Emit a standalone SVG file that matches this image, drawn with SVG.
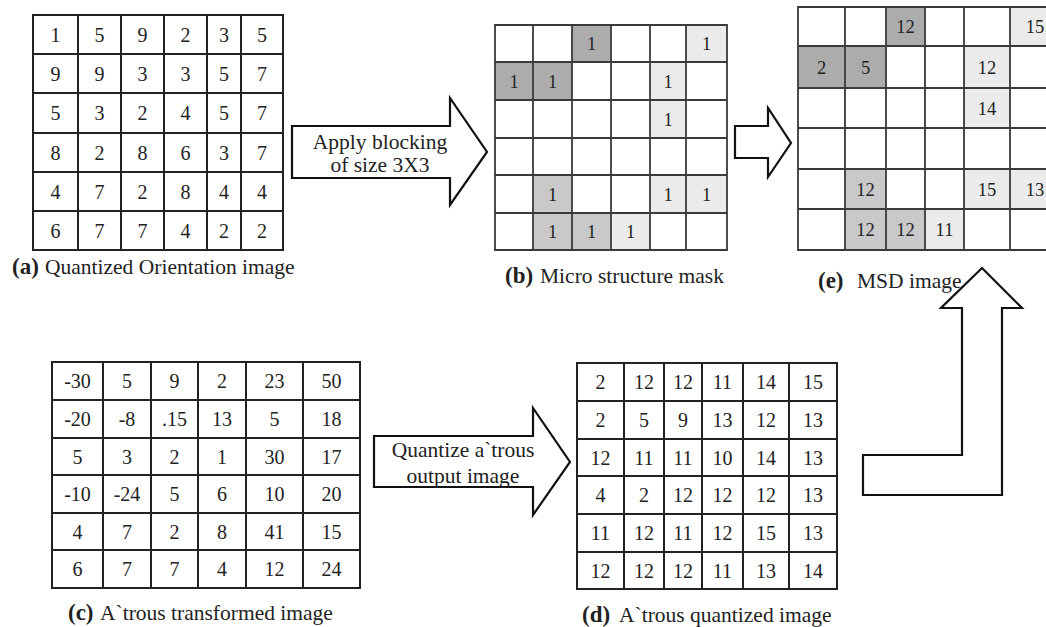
<svg xmlns="http://www.w3.org/2000/svg" width="1046" height="627" viewBox="0 0 1046 627">
<style>
text{font-family:"Liberation Serif","Times New Roman",serif;fill:#222}
.n{font-size:20px;text-anchor:middle}
.g{font-size:18.5px;text-anchor:middle;fill:#555}
.lb{font-size:21.5px}
.b{font-weight:bold;font-size:23px}
.grid{fill:none;stroke:#222;stroke-width:2}
.gg{fill:none;stroke:#3a3a3a;stroke-width:1.8}
.d1{fill:#acacac}.d2{fill:#c9c9c9}.d3{fill:#ebebeb}
.arr{fill:#fff;stroke:#111;stroke-width:2.2;stroke-linejoin:miter}
.at{font-size:21.5px;text-anchor:middle}
</style>
<rect width="1046" height="627" fill="#fff"/>

<g id="gridA">
<path class="grid" d="M33 15H283V250H33Z M78 15V250 M121 15V250 M164 15V250 M207 15V250 M241 15V250 M33 54H283 M33 93H283 M33 133H283 M33 172H283 M33 211H283"/>
<g class="n">
<text x="55.5" y="41.5">1</text><text x="99.5" y="41.5">5</text><text x="142.5" y="41.5">9</text><text x="185.5" y="41.5">2</text><text x="224" y="41.5">3</text><text x="262" y="41.5">5</text>
<text x="55.5" y="80.5">9</text><text x="99.5" y="80.5">9</text><text x="142.5" y="80.5">3</text><text x="185.5" y="80.5">3</text><text x="224" y="80.5">5</text><text x="262" y="80.5">7</text>
<text x="55.5" y="120">5</text><text x="99.5" y="120">3</text><text x="142.5" y="120">2</text><text x="185.5" y="120">4</text><text x="224" y="120">5</text><text x="262" y="120">7</text>
<text x="55.5" y="159.5">8</text><text x="99.5" y="159.5">2</text><text x="142.5" y="159.5">8</text><text x="185.5" y="159.5">6</text><text x="224" y="159.5">3</text><text x="262" y="159.5">7</text>
<text x="55.5" y="198.5">4</text><text x="99.5" y="198.5">7</text><text x="142.5" y="198.5">2</text><text x="185.5" y="198.5">8</text><text x="224" y="198.5">4</text><text x="262" y="198.5">4</text>
<text x="55.5" y="237.5">6</text><text x="99.5" y="237.5">7</text><text x="142.5" y="237.5">7</text><text x="185.5" y="237.5">4</text><text x="224" y="237.5">2</text><text x="262" y="237.5">2</text>
</g>
<text class="lb" x="12" y="274"><tspan class="b">(a)</tspan><tspan x="45">Quantized Orientation image</tspan></text>
</g>

<g id="gridB">
<rect class="d1" x="572" y="25" width="39" height="37"/>
<rect class="d1" x="495" y="62" width="77" height="38"/>
<rect class="d2" x="533" y="175" width="39" height="75"/>
<rect class="d2" x="572" y="213" width="39" height="37"/>
<rect class="d3" x="686" y="25" width="41" height="37"/>
<rect class="d3" x="650" y="62" width="36" height="76"/>
<rect class="d3" x="650" y="175" width="77" height="38"/>
<rect class="d3" x="611" y="213" width="39" height="37"/>
<path class="gg" d="M495 25H727V250H495Z M533 25V250 M572 25V250 M611 25V250 M650 25V250 M686 25V250 M495 62H727 M495 100H727 M495 138H727 M495 175H727 M495 213H727"/>
<g class="g">
<text x="591.5" y="50">1</text><text x="706.5" y="50">1</text>
<text x="514" y="87.5">1</text><text x="552.5" y="87.5">1</text><text x="668" y="87.5">1</text>
<text x="668" y="125.5">1</text>
<text x="552.5" y="200.5">1</text><text x="668" y="200.5">1</text><text x="706.5" y="200.5">1</text>
<text x="552.5" y="238">1</text><text x="591.5" y="238">1</text><text x="630.5" y="238">1</text>
</g>
<text class="lb" x="505" y="283"><tspan class="b">(b)</tspan><tspan x="540">Micro structure mask</tspan></text>
</g>

<g id="gridE">
<rect class="d1" x="886" y="7" width="39" height="39"/>
<rect class="d1" x="798" y="46" width="88" height="42"/>
<rect class="d2" x="845" y="169" width="41" height="81"/>
<rect class="d2" x="886" y="209" width="39" height="41"/>
<rect class="d3" x="1010" y="7" width="40" height="39"/>
<rect class="d3" x="964" y="46" width="46" height="82"/>
<rect class="d3" x="964" y="169" width="86" height="40"/>
<rect class="d3" x="925" y="209" width="39" height="41"/>
<path class="gg" d="M798 7H1050V250H798Z M845 7V250 M886 7V250 M925 7V250 M964 7V250 M1010 7V250 M798 46H1050 M798 88H1050 M798 128H1050 M798 169H1050 M798 209H1050"/>
<g class="g">
<text x="905.5" y="33">12</text><text x="1035" y="33">15</text>
<text x="821.5" y="73.5">2</text><text x="865.5" y="73.5">5</text><text x="987" y="73.5">12</text>
<text x="987" y="114.5">14</text>
<text x="865.5" y="195.5">12</text><text x="987" y="195.5">15</text><text x="1035" y="195.5">13</text>
<text x="865.5" y="236">12</text><text x="905.5" y="236">12</text><text x="944.5" y="236">11</text>
</g>
<text class="lb" x="818" y="288"><tspan class="b">(e)</tspan><tspan x="857">MSD image</tspan></text>
</g>

<g id="gridC">
<path class="grid" d="M52 362H360V588H52Z M103 362V588 M151 362V588 M198 362V588 M246 362V588 M303 362V588 M52 400H360 M52 438H360 M52 475H360 M52 513H360 M52 550H360"/>
<g class="n">
<text x="77.5" y="388">-30</text><text x="127" y="388">5</text><text x="174.5" y="388">9</text><text x="222" y="388">2</text><text x="274.5" y="388">23</text><text x="331.5" y="388">50</text>
<text x="77.5" y="426">-20</text><text x="127" y="426">-8</text><text x="174.5" y="426">.15</text><text x="222" y="426">13</text><text x="274.5" y="426">5</text><text x="331.5" y="426">18</text>
<text x="77.5" y="463.5">5</text><text x="127" y="463.5">3</text><text x="174.5" y="463.5">2</text><text x="222" y="463.5">1</text><text x="274.5" y="463.5">30</text><text x="331.5" y="463.5">17</text>
<text x="77.5" y="501">-10</text><text x="127" y="501">-24</text><text x="174.5" y="501">5</text><text x="222" y="501">6</text><text x="274.5" y="501">10</text><text x="331.5" y="501">20</text>
<text x="77.5" y="538.5">4</text><text x="127" y="538.5">7</text><text x="174.5" y="538.5">2</text><text x="222" y="538.5">8</text><text x="274.5" y="538.5">41</text><text x="331.5" y="538.5">15</text>
<text x="77.5" y="576">6</text><text x="127" y="576">7</text><text x="174.5" y="576">7</text><text x="222" y="576">4</text><text x="274.5" y="576">12</text><text x="331.5" y="576">24</text>
</g>
<text class="lb" x="68" y="620"><tspan class="b">(c)</tspan><tspan x="100">A`trous transformed image</tspan></text>
</g>

<g id="gridD">
<path class="grid" d="M577 363H837V589H577Z M624 363V589 M664 363V589 M702 363V589 M743 363V589 M789 363V589 M577 401H837 M577 439H837 M577 476H837 M577 514H837 M577 552H837"/>
<g class="n">
<text x="600.5" y="389">2</text><text x="644" y="389">12</text><text x="683" y="389">12</text><text x="722.5" y="389">11</text><text x="766" y="389">14</text><text x="813" y="389">15</text>
<text x="600.5" y="427">2</text><text x="644" y="427">5</text><text x="683" y="427">9</text><text x="722.5" y="427">13</text><text x="766" y="427">12</text><text x="813" y="427">13</text>
<text x="600.5" y="464.5">12</text><text x="644" y="464.5">11</text><text x="683" y="464.5">11</text><text x="722.5" y="464.5">10</text><text x="766" y="464.5">14</text><text x="813" y="464.5">13</text>
<text x="600.5" y="502">4</text><text x="644" y="502">2</text><text x="683" y="502">12</text><text x="722.5" y="502">12</text><text x="766" y="502">12</text><text x="813" y="502">13</text>
<text x="600.5" y="540">11</text><text x="644" y="540">12</text><text x="683" y="540">11</text><text x="722.5" y="540">12</text><text x="766" y="540">15</text><text x="813" y="540">13</text>
<text x="600.5" y="577.5">12</text><text x="644" y="577.5">12</text><text x="683" y="577.5">12</text><text x="722.5" y="577.5">11</text><text x="766" y="577.5">13</text><text x="813" y="577.5">14</text>
</g>
<text class="lb" x="582" y="622"><tspan class="b">(d)</tspan><tspan x="619">A`trous quantized image</tspan></text>
</g>

<g id="connectors">
<path class="arr" d="M292 126H450V98L487 152L450 205V178H292Z"/>
<text class="at" x="380" y="149">Apply blocking</text>
<text class="at" x="380" y="172">of size 3X3</text>
<path class="arr" d="M735 126H768V108L791 143L768 177V158H735Z"/>
<path class="arr" d="M374 436H533V408L570 462L533 515V487H374Z"/>
<text class="at" x="463" y="457">Quantize a`trous</text>
<text class="at" x="463" y="483">output image</text>
<path class="arr" d="M982 268L1022 308H1002V495H863V455H962V308H941Z"/>
</g>
</svg>
